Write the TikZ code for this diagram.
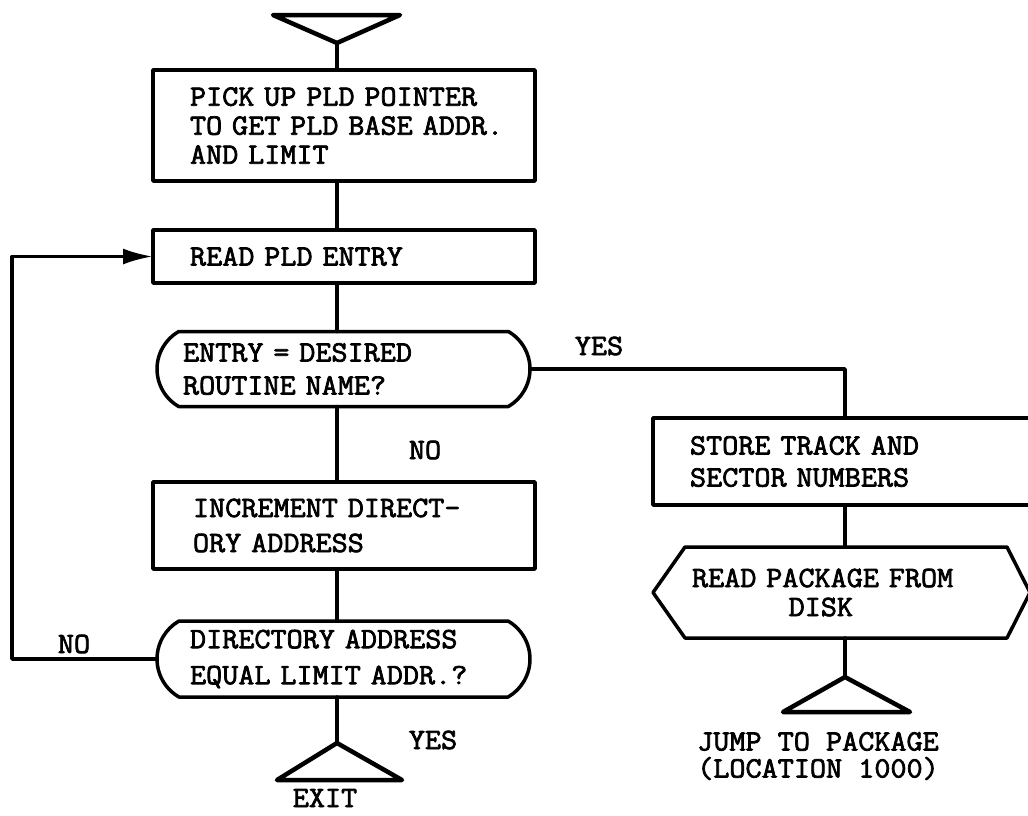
\documentclass[tikz,border=0pt]{standalone}
\usepackage{fontspec}
\newfontfamily\tw[FakeBold=2.5,FakeStretch=1.06]{Latin Modern Mono}
\usetikzlibrary{shapes.misc,arrows.meta}
\begin{document}
\begin{tikzpicture}[x=1pt,y=-1pt,
  every node/.style={inner sep=0pt, outer sep=0pt},
  ln/.style={line width=3.5pt, line join=round, line cap=round},
  tri/.style={line width=4.5pt, line join=round, line cap=round},
  txt/.style={font=\tw\fontsize{29.5}{#1}\selectfont},
  box/.style={draw, ln, rectangle, align=left},
  dec/.style={draw, ln, rounded rectangle, rounded rectangle arc length=120, align=left},
  hexa/.style={rectangle, align=left},
  tip/.style={-{Latex[length=30pt,width=16pt]}}
]
\useasboundingbox (0,0) rectangle (1028,815);

% terminals (triangles) and their apex coordinates
\draw[tri] (273,15) -- (400,15) -- (337,43) -- cycle;
\coordinate (start) at (337,43);
\draw[tri] (337,743) -- (402,780) -- (277,780) -- cycle;
\coordinate (exitapex) at (337,743);
\draw[tri] (845,677) -- (910,712) -- (783,712) -- cycle;
\coordinate (jump) at (845,677);

% main column
\node[box, txt=29, minimum width=382pt, minimum height=111pt, text width=308pt] (p1) at (344,125.5)
  {PICK~UP~PLD~POINTER\\TO~GET~PLD~BASE~ADDR.\\AND~LIMIT};
\node[box, txt=29, minimum width=382pt, minimum height=53pt, text width=308pt] (p2) at (344,256.5)
  {READ~PLD~ENTRY};
\node[dec, txt=33, minimum width=373pt, minimum height=75pt, text width=321pt] (d1) at (343.5,369)
  {ENTRY~=~DESIRED\\ROUTINE~NAME?};
\node[box, txt=35, minimum width=382pt, minimum height=87pt, text width=302pt] (p4) at (344,525.5)
  {INCREMENT~DIRECT-\\ORY~ADDRESS};
\node[dec, txt=36, minimum width=373pt, minimum height=76pt, text width=307pt] (d2) at (343.5,659)
  {DIRECTORY~ADDRESS\\EQUAL~LIMIT~ADDR.?};

% right column
\node[box, txt=32, minimum width=384pt, minimum height=87pt, text width=310pt] (p3) at (845,461.5)
  {STORE~TRACK~AND\\SECTOR~NUMBERS};
\node[hexa, txt=29, minimum width=377pt, minimum height=91pt, text width=299pt] (hex) at (841.5,592.5)
  {READ~PACKAGE~FROM\\\phantom{XXXXXX}DISK};
\draw[ln] (hex.west) -- ([xshift=32pt]hex.north west) -- ([xshift=-23pt]hex.north east)
  -- (hex.east) -- ([xshift=-23pt]hex.south east) -- ([xshift=32pt]hex.south west) -- cycle;

% connectors
\draw[ln] (start) -- (start |- p1.north);
\draw[ln] (p1.south -| start) -- (p2.north -| start);
\draw[ln] (p2.south -| start) -- (d1.north -| start);
\draw[ln] (d1.south -| start) -- (p4.north -| start);
\draw[ln] (p4.south -| start) -- (d2.north -| start);
\draw[ln] (d2.south -| start) -- (exitapex);
\draw[ln] (d1.east) -| (p3.north -| jump);
\draw[ln] (p3.south -| jump) -- (hex.north -| jump);
\draw[ln] (hex.south -| jump) -- (jump);
\coordinate (lc) at (12,659);
\draw[ln, tip] (d2.west) -- (lc) |- (p2.west);

% labels
\node[txt=27] (no1) at (425,450) {NO};
\node[txt=27] (yes1) at (599,346) {YES};
\node[txt=27] (no2) at (74,644) {NO};
\node[txt=27] (yes2) at (433,740) {YES};
\node[txt=27] (exitl) at (325,798) {EXIT};
\node[txt=27, align=center] (jumpl) at (818,756) {JUMP~TO~PACKAGE\\(LOCATION~1000)};
\end{tikzpicture}
\end{document}
